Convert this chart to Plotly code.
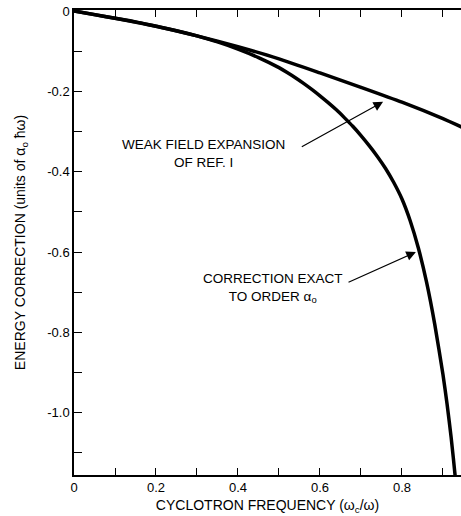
import plotly.graph_objects as go

# Weak field expansion (Ref. I)
weak_x = [0.0, 0.1, 0.2, 0.3, 0.4, 0.5, 0.6, 0.7, 0.8, 0.9, 0.95]
weak_y = [0.0, -0.018, -0.038, -0.062, -0.089, -0.119, -0.154, -0.190, -0.227, -0.268, -0.291]

# Correction exact to order a0
exact_x = [0.0, 0.05, 0.1, 0.15, 0.2, 0.25, 0.3, 0.35, 0.4, 0.45, 0.5,
           0.52, 0.54, 0.56, 0.58, 0.6, 0.62, 0.64, 0.66, 0.68, 0.7, 0.72, 0.74,
           0.76, 0.78, 0.8, 0.82, 0.84, 0.86, 0.88, 0.9, 0.91, 0.92, 0.93, 0.94]
exact_y = [0.0, -0.009, -0.018, -0.027, -0.038, -0.049, -0.062, -0.077, -0.095, -0.116, -0.141,
           -0.153, -0.166, -0.180, -0.195, -0.211, -0.228, -0.246, -0.266, -0.287, -0.310, -0.335, -0.362,
           -0.392, -0.427, -0.468, -0.522, -0.590, -0.675, -0.780, -0.905, -0.978, -1.062, -1.160, -1.280]

x_ticks = [0, 0.2, 0.4, 0.6, 0.8]
x_ticktext = ["0", "0.2", "0.4", "0.6", "0.8"]
x_minor = [0.1, 0.3, 0.5, 0.7, 0.9]
y_ticks = [0, -0.2, -0.4, -0.6, -0.8, -1.0]
y_ticktext = ["0", "-0.2", "-0.4", "-0.6", "-0.8", "-1.0"]
y_minor = [-0.1, -0.3, -0.5, -0.7, -0.9, -1.1]

FONT = "Liberation Sans, Arial, sans-serif"

fig = go.Figure()
fig.add_trace(go.Scatter(x=weak_x, y=weak_y, mode="lines",
                         line=dict(color="black", width=3.5, shape="spline", smoothing=0.6),
                         showlegend=False, hoverinfo="skip"))
fig.add_trace(go.Scatter(x=exact_x, y=exact_y, mode="lines",
                         line=dict(color="black", width=3.5, shape="spline", smoothing=0.6),
                         showlegend=False, hoverinfo="skip"))

axis_common = dict(showgrid=False, zeroline=False, showline=True, linecolor="black",
                   linewidth=1.5, ticks="inside", tickcolor="black", tickwidth=1.2,
                   automargin=False,
                   tickfont=dict(family=FONT, size=13, color="black"))

fig.update_xaxes(range=[0, 0.944], tickmode="array", tickvals=x_ticks, ticktext=x_ticktext,
                 ticklen=7, mirror="ticks",
                 minor=dict(tickmode="array", tickvals=x_minor, ticks="inside", ticklen=7,
                            tickcolor="black", tickwidth=1.2),
                 title=dict(text="CYCLOTRON FREQUENCY (ω<sub>c</sub>/ω)",
                            font=dict(family=FONT, size=14, color="black"), standoff=6),
                 **axis_common)
fig.update_yaxes(range=[-1.155, 0.0025], tickmode="array", tickvals=y_ticks, ticktext=y_ticktext,
                 ticklen=8, mirror=False,
                 minor=dict(tickmode="array", tickvals=y_minor, ticks="inside", ticklen=8,
                            tickcolor="black", tickwidth=1.2),
                 title=dict(text="ENERGY CORRECTION (units of α<sub>o</sub> ħω)",
                            font=dict(family=FONT, size=14, color="black"), standoff=18),
                 **axis_common)

ann_font = dict(family=FONT, size=13.5, color="black")
fig.add_annotation(x=0.315, y=-0.354, xref="x", yref="y",
                   text="WEAK FIELD EXPANSION<br>OF REF. I", showarrow=False,
                   font=ann_font, align="center")
fig.add_annotation(x=0.754, y=-0.226, xref="x", yref="y", ax=0.552, ay=-0.340,
                   axref="x", ayref="y", text="",
                   showarrow=True, arrowhead=2, arrowsize=1.6,
                   arrowwidth=1.2, arrowcolor="black")
fig.add_annotation(x=0.485, y=-0.689, xref="x", yref="y",
                   text="CORRECTION EXACT<br>TO ORDER α<sub>o</sub>", showarrow=False,
                   font=ann_font, align="center")
fig.add_annotation(x=0.834, y=-0.600, xref="x", yref="y", ax=0.666, ay=-0.677,
                   axref="x", ayref="y", text="",
                   showarrow=True, arrowhead=2, arrowsize=1.6,
                   arrowwidth=1.2, arrowcolor="black")

fig.update_layout(width=461, height=516, margin=dict(l=74, r=0, t=10, b=41),
                  plot_bgcolor="white", paper_bgcolor="white")

fig.write_html("out.html", config={"displayModeBar": False},
               post_script="document.body.style.margin='0';document.body.style.overflow='hidden';")
